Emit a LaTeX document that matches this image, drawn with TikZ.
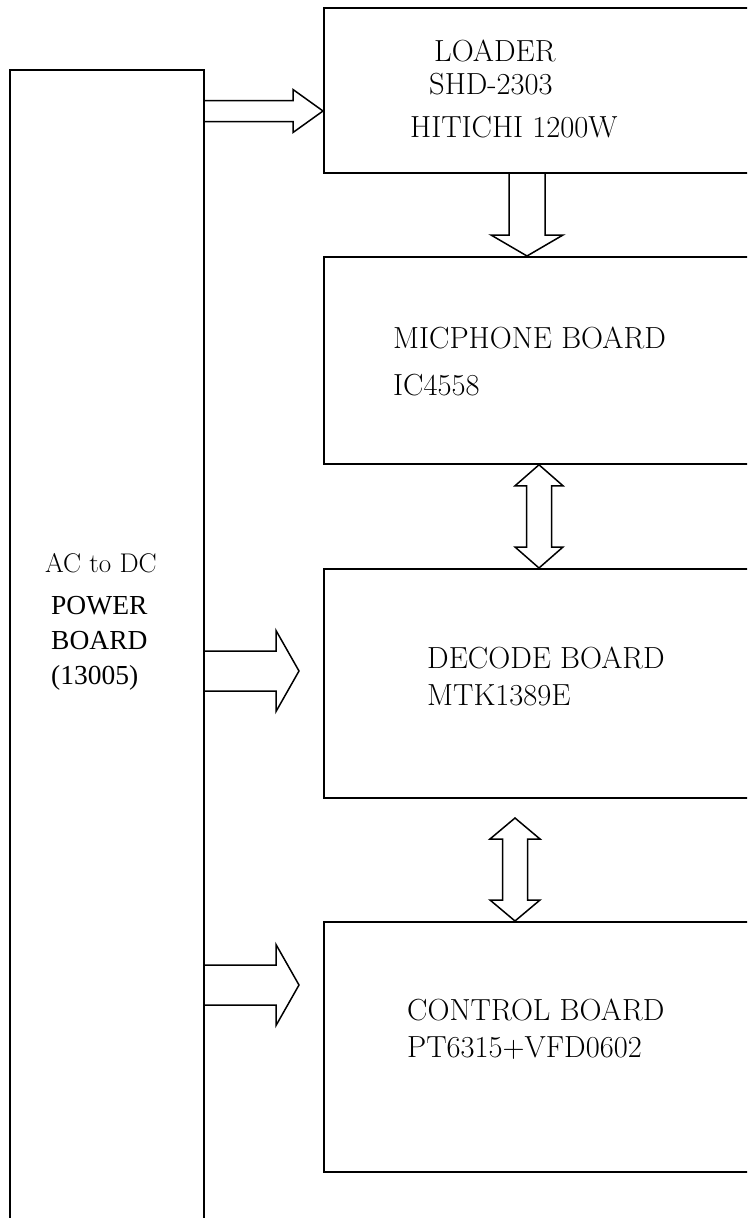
\documentclass[tikz,border=0pt]{standalone}
\usepackage{fontspec}
\newfontfamily\timesfont{Liberation Serif}
\usetikzlibrary{calc}

% hollow block arrows: start, tip, shaft half width, head half width, head length
\newcommand{\rightblock}[5]{%
  \draw [blockarrow] let \p1=#1, \p2=#2 in
    (\x1,\y1+#3) -- (\x2-#5,\y1+#3) -- (\x2-#5,\y1+#4) -- (\x2,\y1)
    -- (\x2-#5,\y1-#4) -- (\x2-#5,\y1-#3) -- (\x1,\y1-#3);}
\newcommand{\downblock}[5]{%
  \draw [blockarrow] let \p1=#1, \p2=#2 in
    (\x1-#3,\y1) -- (\x1-#3,\y2+#5) -- (\x1-#4,\y2+#5) -- (\x2,\y2)
    -- (\x1+#4,\y2+#5) -- (\x1+#3,\y2+#5) -- (\x1+#3,\y1);}
\newcommand{\bothblock}[5]{%
  \draw [blockarrow] let \p1=#1, \p2=#2 in
    (\x1,\y1) -- (\x1+#4,\y1-#5) -- (\x1+#3,\y1-#5) -- (\x1+#3,\y2+#5)
    -- (\x1+#4,\y2+#5) -- (\x2,\y2) -- (\x1-#4,\y2+#5) -- (\x1-#3,\y2+#5)
    -- (\x1-#3,\y1-#5) -- (\x1-#4,\y1-#5) -- cycle;}

\begin{document}
\begin{tikzpicture}[
    x=1pt, y=-1pt,
    box/.style={
        rectangle, draw=black, line width=1.8pt, anchor=north west, inner sep=0pt
    },
    blockarrow/.style={
        draw=black, line width=1.5pt, line join=miter
    },
    lbl/.style={
        anchor=base west, inner sep=0pt, font=\fontsize{30.5}{34}\selectfont
    },
    pwr/.style={
        anchor=base west, inner sep=0pt, font=\timesfont\fontsize{27.5}{31}\selectfont
    }
]
    \useasboundingbox (0,0) rectangle (747,1218);
    \clip (0,0) rectangle (747,1218);

    \node (pow) [box, minimum width=194, minimum height=1180] at (9,69) {};
    \node (loa) [box, minimum width=460, minimum height=165] at (323,7) {};
    \node (mic) [box, minimum width=460, minimum height=207] at (323,256) {};
    \node (dec) [box, minimum width=460, minimum height=229] at (323,568) {};
    \node (con) [box, minimum width=460, minimum height=250] at (323,921) {};

    \node (loa1) [lbl] at (434,61) {LOADER};
    \node (loa2) [lbl] at (429,94) {SHD-2303};
    \node (loa3) [lbl] at (410,137) {HITICHI 1200W};
    \node (mic1) [lbl] at (393,348) {MICPHONE BOARD};
    \node (mic2) [lbl] at (393,395) {IC4558};
    \node (dec1) [lbl] at (427,668) {DECODE BOARD};
    \node (dec2) [lbl] at (427,705) {MTK1389E};
    \node (con1) [lbl] at (407,1020) {CONTROL BOARD};
    \node (con2) [lbl] at (407,1057) {PT6315+VFD0602};

    \node (pow1) [lbl, font=\fontsize{27}{31}\selectfont] at (45,572) {AC to DC};
    \node (pow2) [pwr] at (51,614) {POWER};
    \node (pow3) [pwr] at (51,649) {BOARD};
    \node (pow4) [pwr] at (51,684) {(13005)};

    \coordinate (tiploa) at (323,111);
    \coordinate (tipdec) at (299,671);
    \coordinate (tipcon) at (299,985);
    \coordinate (tipmic) at (527,256);
    \coordinate (ctrl) at (539,0);
    \coordinate (dctop) at (515,818);

    \rightblock{(pow.east |- tiploa)}{(tiploa)}{10.5pt}{21.5pt}{30pt}
    \rightblock{(pow.east |- tipdec)}{(tipdec)}{20pt}{40.5pt}{23pt}
    \rightblock{(pow.east |- tipcon)}{(tipcon)}{20pt}{40.5pt}{23pt}

    \downblock{(loa.south -| tipmic)}{(tipmic)}{18pt}{36pt}{21pt}
    \bothblock{(mic.south -| ctrl)}{(dec.north -| ctrl)}{12.5pt}{24pt}{21pt}
    \bothblock{(dctop)}{(con.north -| dctop)}{12.5pt}{25pt}{21pt}
\end{tikzpicture}
\end{document}
